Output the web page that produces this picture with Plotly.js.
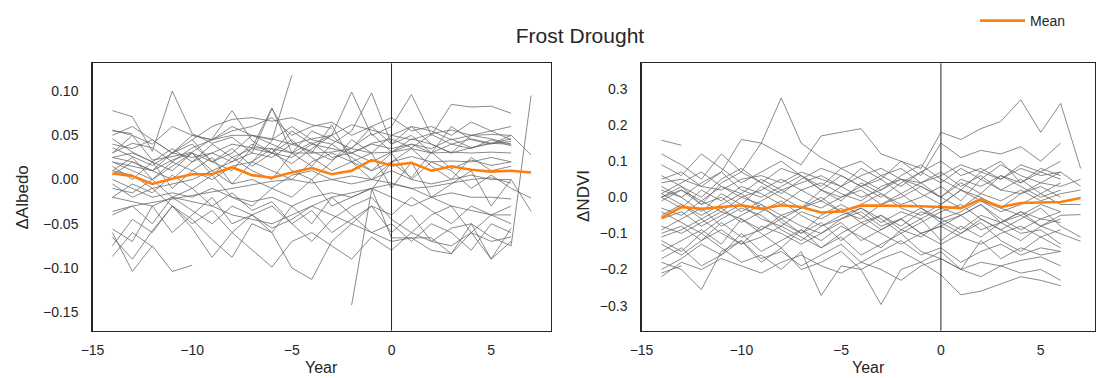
<!DOCTYPE html>
<html>
<head>
<meta charset="utf-8">
<script src="https://cdn.plot.ly/plotly-3.0.1.min.js"></script>
<style>html,body{margin:0;padding:0;background:#fff;}#chart{width:1096px;height:378px;}</style>
</head>
<body>
<div id="chart"></div>
<script>
// Years relative to drought event
const years = [-14,-13,-12,-11,-10,-9,-8,-7,-6,-5,-4,-3,-2,-1,0,1,2,3,4,5,6,7];

// ΔAlbedo per site (index 0 = year -14; null = missing)
const albedoSeries = [
  [0.078,0.071,0.032,0.100,0.052,0.041,0.048,0.030,0.025,0.040,0.032,0.022,0.036,0.052,0.031,0.046,0.040,0.030,0.036,0.041,0.040],
  [0.056,0.050,0.022,0.026,0.031,0.046,0.078,0.044,0.030,0.018,0.035,0.050,0.030,0.041,0.046,0.036,0.051,0.040,0.046,0.041,0.043],
  [0.046,0.031,0.020,0.010,0.030,0.020,0.010,0.036,0.081,0.030,0.042,0.025,0.030,0.020,0.031,0.040,0.035,0.046,0.036,0.041,0.046],
  [0.036,0.026,0.016,0.030,0.025,0.030,0.040,0.036,0.035,0.030,0.030,0.031,0.035,0.030,0.031,0.035,0.030,0.031,0.030,0.031,0.030],
  [0.030,0.041,0.036,0.020,0.036,0.045,0.050,0.050,0.046,0.040,0.046,0.050,0.062,0.056,0.050,0.045,0.052,0.056,0.050,0.051,0.050],
  [0.020,0.010,0.000,0.020,0.010,0.000,0.015,0.020,0.010,0.000,0.020,0.030,0.020,0.010,0.020,0.026,0.020,0.021,0.020,0.025,0.020],
  [0.010,0.005,-0.010,-0.005,0.000,0.010,-0.005,0.000,-0.010,0.005,0.010,0.000,-0.005,0.000,0.010,0.000,-0.005,0.000,0.005,0.000,0.000],
  [0.000,-0.010,-0.020,-0.015,-0.020,-0.010,-0.020,-0.025,-0.020,-0.030,-0.020,-0.015,-0.020,-0.010,-0.020,-0.030,-0.020,-0.015,-0.020,-0.020,-0.022],
  [-0.020,-0.025,-0.030,-0.020,-0.025,-0.030,-0.040,-0.045,-0.050,-0.040,-0.030,-0.020,-0.015,-0.010,-0.005,-0.010,-0.020,-0.030,-0.035,-0.040,-0.040],
  [-0.036,-0.030,-0.026,-0.022,-0.018,-0.014,-0.010,-0.006,-0.002,0.000,-0.004,0.000,0.004,0.000,-0.004,-0.010,-0.008,-0.004,0.000,0.002,-0.004],
  [-0.056,-0.070,-0.030,-0.060,-0.040,-0.020,-0.050,-0.040,-0.060,-0.030,-0.050,-0.020,-0.040,-0.060,-0.050,-0.070,-0.050,-0.060,-0.080,-0.050,-0.060],
  [-0.087,-0.060,-0.076],
  [-0.060,-0.104,-0.075,-0.104,-0.097],
  [-0.065,-0.090,-0.058,-0.030,-0.045,-0.068,-0.088,-0.050,-0.060,-0.100,-0.113,-0.070,-0.050,-0.060,-0.070,-0.066,-0.080,-0.084,-0.060,-0.090,-0.070],
  [0.020,0.015,0.010,0.022,0.030,0.010,0.020,0.030,0.080,0.042,0.030,0.062,0.020,0.030,0.050,0.060,0.040,0.030,0.050,0.046,0.040],
  [null,null,null,null,null,null,null,0.020,0.044,0.118],
  [null,null,null,null,null,null,null,null,null,null,null,null,-0.142,-0.012,0.020,0.002,0.031,0.012,0.022,0.016,0.020],
  [-0.040,-0.030,-0.050,-0.020,-0.035,-0.050,-0.030,-0.040,-0.055,-0.045,-0.030,-0.040,-0.050,-0.030,-0.060,-0.040,-0.070,-0.055,-0.050,-0.065,-0.075,0.095],
  [0.010,0.025,0.000,0.015,0.030,0.005,0.025,0.010,0.000,0.030,0.015,0.040,0.025,0.010,0.030,0.000,0.020,0.010,-0.010,0.005,-0.010,-0.021],
  [0.015,0.000,0.020,-0.010,0.010,0.025,-0.005,0.020,0.035,0.010,0.000,0.020,0.045,0.030,-0.010,0.020,-0.020,-0.005,0.010,-0.030,0.000,-0.036],
  [0.025,0.020,0.010,0.030,0.045,0.020,0.030,0.050,0.040,0.030,0.055,0.045,0.035,0.060,0.040,0.050,0.030,0.060,0.045,0.040,0.050,0.028],
  [0.005,0.020,0.010,0.000,0.020,0.030,0.020,0.040,0.030,0.055,0.040,0.050,0.099,0.050,0.060,0.096,0.050,0.085,0.082,0.083,0.075],
  [0.040,0.035,0.045,0.030,0.050,0.045,0.060,0.050,0.045,0.060,0.045,0.040,0.055,0.098,0.040,0.060,0.055,0.045,0.050,0.055,0.060],
  [-0.010,-0.015,0.000,-0.020,-0.010,0.005,-0.020,-0.030,-0.010,-0.020,0.000,-0.030,-0.020,-0.010,-0.066,-0.066,-0.066,-0.084,-0.050,-0.090,-0.055],
  [0.030,0.050,0.040,0.060,0.050,0.045,0.055,0.060,0.070,0.050,0.060,0.065,0.050,0.060,0.070,0.055,0.060,0.050,0.065,0.055,0.045],
  [-0.020,-0.005,-0.015,0.005,-0.010,-0.030,-0.015,-0.035,-0.025,-0.050,-0.035,-0.060,-0.045,-0.030,-0.040,-0.020,-0.035,-0.050,-0.030,-0.040,-0.050],
  [0.050,0.060,0.045,0.030,0.040,0.020,0.035,0.015,0.030,0.045,0.025,0.010,0.020,0.000,0.020,0.035,0.015,0.000,0.025,0.010,0.015],
  [-0.005,-0.020,-0.010,-0.030,-0.050,-0.035,-0.060,-0.040,-0.030,-0.050,-0.070,-0.045,-0.030,-0.020,-0.045,-0.060,-0.040,-0.030,-0.060,-0.040,-0.030],
  [0.025,0.030,0.020,0.035,0.020,0.040,0.025,0.035,0.030,0.025,0.040,0.035,0.030,0.040,0.035,0.040,0.030,0.040,0.035,0.045,0.038],
  [0.055,0.052],
  [null,null,null,null,0.045,0.060,0.068,0.070,0.066,0.070,0.062,0.058],
  [-0.075,-0.045,-0.060,-0.030,-0.055,-0.088,-0.060,-0.080,-0.099,-0.070,-0.060,-0.075,-0.090,-0.065,-0.080,-0.060,-0.070,-0.075,-0.060,-0.070,-0.065]
];
const albedoMean = [0.007,0.004,-0.005,0.001,0.006,0.006,0.014,0.005,0.002,0.008,0.013,0.006,0.010,0.022,0.016,0.019,0.010,0.015,0.011,0.009,0.010,0.008];

// ΔNDVI per site
const ndviSeries = [
  [0.158,0.144],
  [0.120,0.090,0.050,0.120,0.070,0.040,0.080,0.060,0.020,0.060,0.030,0.050,0.010,0.040,0.070,0.030,0.060,0.020,0.050,0.010,0.040],
  [0.000,0.030,-0.020,0.040,0.070,0.150,0.275,0.150,0.110,0.080,0.100,0.060,0.030,0.070,0.040,0.080,0.050,0.090,0.060,0.040,0.070],
  [0.040,0.050,0.030,0.070,0.160,0.150,0.120,0.090,0.170,0.180,0.190,0.120,0.100,0.080,0.180,0.160,0.190,0.210,0.270,0.180,0.260,0.080],
  [-0.180,-0.200,-0.256,-0.150,-0.120,-0.180,-0.140,-0.200,-0.180,-0.150,-0.200,-0.297,-0.200,-0.180,-0.150,-0.200,-0.120,-0.170,-0.140,-0.160,-0.150],
  [-0.120,-0.150,-0.100,-0.140,-0.180,-0.160,-0.200,-0.150,-0.272,-0.190,-0.200,-0.170,-0.150,-0.180,-0.215,-0.270,-0.260,-0.240,-0.220,-0.230,-0.245],
  [-0.200,-0.170,-0.130,-0.160,-0.100,-0.150,-0.120,-0.090,-0.140,-0.110,-0.160,-0.130,-0.100,-0.150,-0.170,-0.200,-0.180,-0.190,-0.175,-0.165,-0.190],
  [-0.050,-0.020,-0.060,-0.030,-0.070,-0.040,-0.010,-0.050,-0.080,-0.060,-0.030,-0.070,-0.040,-0.060,-0.030,-0.050,-0.020,-0.070,-0.040,-0.080,-0.050,-0.048],
  [0.020,0.000,-0.040,0.010,-0.020,0.030,0.000,-0.030,0.020,-0.010,0.040,0.010,-0.020,0.000,0.030,-0.010,0.050,0.020,0.010,0.040,0.030,0.050],
  [-0.100,-0.080,-0.120,-0.070,-0.110,-0.090,-0.060,-0.100,-0.070,-0.120,-0.080,-0.050,-0.090,-0.110,-0.070,-0.100,-0.060,-0.090,-0.120,-0.080,-0.100,-0.122],
  [0.050,0.070,0.030,0.020,0.050,0.060,0.040,0.070,0.050,0.030,0.060,0.080,0.050,0.040,0.060,0.090,0.070,0.050,0.080,0.060,0.070,0.030],
  [-0.030,-0.050,-0.010,-0.040,0.000,-0.020,-0.050,-0.030,-0.010,-0.040,-0.060,-0.020,0.010,-0.030,-0.060,-0.040,-0.010,-0.030,-0.050,-0.020,-0.040],
  [0.010,0.040,0.070,0.030,0.000,0.020,0.050,0.020,-0.010,0.030,0.000,0.020,0.050,0.030,0.000,0.040,0.010,0.060,0.030,0.000,0.020],
  [-0.150,-0.120,-0.090,-0.130,-0.060,-0.100,-0.140,-0.090,-0.120,-0.080,-0.110,-0.140,-0.090,-0.060,-0.120,-0.080,-0.110,-0.070,-0.100,-0.090,-0.130],
  [-0.080,-0.100,-0.070,-0.040,-0.060,-0.090,-0.050,-0.080,-0.100,-0.060,-0.040,-0.080,-0.060,-0.100,-0.080,-0.050,-0.090,-0.070,-0.050,-0.080,-0.060],
  [0.000,-0.030,0.020,-0.010,0.030,0.010,-0.020,0.020,0.040,0.010,-0.010,0.030,0.050,0.010,-0.020,0.020,0.000,-0.030,0.010,0.030,0.000],
  [-0.170,-0.140,-0.190,-0.160,-0.120,-0.170,-0.150,-0.190,-0.160,-0.130,-0.180,-0.150,-0.120,-0.160,-0.140,-0.180,-0.150,-0.130,-0.160,-0.140,-0.150],
  [0.090,0.060,0.120,0.080,0.040,0.070,0.100,0.060,0.030,0.080,0.050,0.020,0.060,0.090,0.050,0.020,0.070,0.100,0.040,0.080,0.060],
  [-0.060,-0.040,-0.080,-0.050,-0.020,-0.060,-0.080,-0.040,-0.060,-0.030,-0.070,-0.050,-0.080,-0.040,-0.060,-0.090,-0.050,-0.070,-0.040,-0.060,-0.070],
  [-0.010,0.020,-0.020,0.000,-0.040,-0.010,0.020,-0.010,-0.030,0.000,0.020,-0.020,0.000,0.030,0.000,-0.030,0.010,-0.010,0.020,-0.010,0.010,0.020],
  [-0.130,-0.160,-0.120,-0.090,-0.130,-0.110,-0.080,-0.110,-0.140,-0.100,-0.070,-0.100,-0.130,-0.100,-0.080,-0.110,-0.130,-0.100,-0.080,-0.110,-0.090],
  [0.030,0.000,0.040,0.070,0.020,0.000,0.030,0.060,0.020,0.000,0.030,0.060,0.080,0.040,0.000,0.050,0.030,0.060,0.040,0.070,0.050],
  [-0.090,-0.060,-0.030,-0.080,-0.050,-0.020,-0.070,-0.100,-0.050,-0.020,-0.050,-0.090,-0.060,-0.030,-0.070,-0.050,-0.020,-0.060,-0.090,-0.060,-0.040],
  [-0.220,-0.180,-0.200,-0.170,-0.190,-0.210,-0.180,-0.160,-0.190,-0.210,-0.180,-0.200,-0.230,-0.190,-0.170,-0.200,-0.220,-0.190,-0.210,-0.200,-0.230],
  [0.060,0.030,0.000,0.050,0.080,0.040,0.010,0.050,0.080,0.060,0.030,0.000,0.040,0.070,0.100,0.060,0.080,0.050,0.090,0.070,0.100],
  [-0.210,-0.190],
  [-0.040,-0.070,-0.100,-0.060,-0.030,-0.050,-0.090,-0.120,-0.080,-0.050,-0.030,-0.060,-0.100,-0.070,-0.040,-0.020,-0.060,-0.090,-0.060,-0.030,-0.080,-0.110],
  [0.000,0.020,-0.010,0.030,0.010,0.050,0.020,0.040,0.060,0.030,0.080,0.050,0.100,0.060,0.150,0.110,0.130,0.120,0.140,0.100,0.150],
  [-0.110,-0.090,-0.060,-0.100,-0.130,-0.080,-0.100,-0.130,-0.100,-0.070,-0.120,-0.090,-0.060,-0.100,-0.130,-0.100,-0.070,-0.120,-0.150,-0.110,-0.140],
  [0.010,-0.020,-0.050,-0.020,0.010,-0.030,-0.060,-0.030,0.000,-0.040,-0.020,0.010,-0.030,-0.050,-0.020,0.020,-0.010,-0.040,-0.020,0.010,-0.020,-0.020]
];
const ndviMean = [-0.057,-0.027,-0.032,-0.027,-0.022,-0.032,-0.022,-0.027,-0.042,-0.039,-0.023,-0.023,-0.023,-0.025,-0.027,-0.030,-0.005,-0.027,-0.016,-0.014,-0.013,-0.002];

const xTicks = [-15,-10,-5,0,5];
const albedoTicks = [-0.15,-0.10,-0.05,0.00,0.05,0.10];
const ndviTicks = [-0.3,-0.2,-0.1,0.0,0.1,0.2,0.3];

const FONT = 'Liberation Sans, Arial, sans-serif';
const INK = '#262626';
const GRAY = 'rgba(105,105,105,0.78)';
const ORANGE = '#ff7f0e';

const traces = [];
albedoSeries.forEach(s => traces.push({x: years, y: s, type: 'scatter', mode: 'lines',
  line: {color: GRAY, width: 1}, showlegend: false, hoverinfo: 'skip', xaxis: 'x', yaxis: 'y'}));
traces.push({x: years, y: albedoMean, type: 'scatter', mode: 'lines', name: 'Mean',
  line: {color: ORANGE, width: 2.6}, showlegend: true, xaxis: 'x', yaxis: 'y'});
ndviSeries.forEach(s => traces.push({x: years, y: s, type: 'scatter', mode: 'lines',
  line: {color: GRAY, width: 1}, showlegend: false, hoverinfo: 'skip', xaxis: 'x2', yaxis: 'y2'}));
traces.push({x: years, y: ndviMean, type: 'scatter', mode: 'lines', name: 'Mean',
  line: {color: ORANGE, width: 2.6}, showlegend: false, xaxis: 'x2', yaxis: 'y2'});

const W = 1096, H = 378;
const axBase = {showline: true, mirror: true, linecolor: INK, linewidth: 1.25, ticks: '',
  showgrid: false, zeroline: false, tickfont: {family: FONT, size: 14, color: INK}};
const xBase = Object.assign({}, axBase, {ticklabelstandoff: 6});
const yBase = Object.assign({}, axBase, {ticklabelstandoff: 10});

const layout = {
  width: W, height: H,
  margin: {l: 0, r: 0, t: 0, b: 0},
  paper_bgcolor: '#fff', plot_bgcolor: '#fff',
  font: {family: FONT, color: INK},
  title: {text: 'Frost Drought', x: 580 / W, xanchor: 'center', y: 1 - 35.5 / H, yanchor: 'middle',
    font: {family: FONT, size: 21, color: INK}},
  xaxis: Object.assign({}, xBase, {domain: [92.5 / W, 551 / W], range: [-15, 8], tickvals: xTicks, anchor: 'y'}),
  yaxis: Object.assign({}, yBase, {domain: [1 - 330.7 / H, 1 - 63.3 / H], range: [-0.171, 0.1315],
    tickvals: albedoTicks, tickformat: '.2f', anchor: 'x'}),
  xaxis2: Object.assign({}, xBase, {domain: [641.5 / W, 1095 / W], range: [-15, 7.72], tickvals: xTicks, anchor: 'y2'}),
  yaxis2: Object.assign({}, yBase, {domain: [1 - 330.7 / H, 1 - 63.3 / H], range: [-0.3695, 0.371],
    tickvals: ndviTicks, tickformat: '.1f', anchor: 'x2'}),
  shapes: [
    {type: 'line', xref: 'x', yref: 'y domain', x0: 0, x1: 0, y0: 0, y1: 1, line: {color: INK, width: 1}},
    {type: 'line', xref: 'x2', yref: 'y2 domain', x0: 0, x1: 0, y0: 0, y1: 1, line: {color: INK, width: 1}}
  ],
  annotations: [
    {text: 'Year', xref: 'paper', yref: 'paper', x: 321 / W, y: 0, xanchor: 'center', yanchor: 'bottom',
      showarrow: false, font: {family: FONT, size: 16, color: INK}},
    {text: 'Year', xref: 'paper', yref: 'paper', x: 868 / W, y: 0, xanchor: 'center', yanchor: 'bottom',
      showarrow: false, font: {family: FONT, size: 16, color: INK}},
    {text: 'ΔAlbedo', xref: 'paper', yref: 'paper', x: 21.5 / W, y: 1 - 198 / H, xanchor: 'center', yanchor: 'middle',
      textangle: -90, showarrow: false, font: {family: FONT, size: 17, color: INK}},
    {text: 'ΔNDVI', xref: 'paper', yref: 'paper', x: 583 / W, y: 1 - 196 / H, xanchor: 'center', yanchor: 'middle',
      textangle: -90, showarrow: false, font: {family: FONT, size: 17, color: INK}}
  ],
  legend: {x: 975 / W, xanchor: 'left', y: 1 - 21 / H, yanchor: 'middle', bgcolor: 'rgba(0,0,0,0)',
    borderwidth: 0, itemwidth: 45, font: {family: FONT, size: 14, color: INK}},
  showlegend: true
};

Plotly.newPlot('chart', traces, layout, {displayModeBar: false, staticPlot: true});
</script>
</body>
</html>
